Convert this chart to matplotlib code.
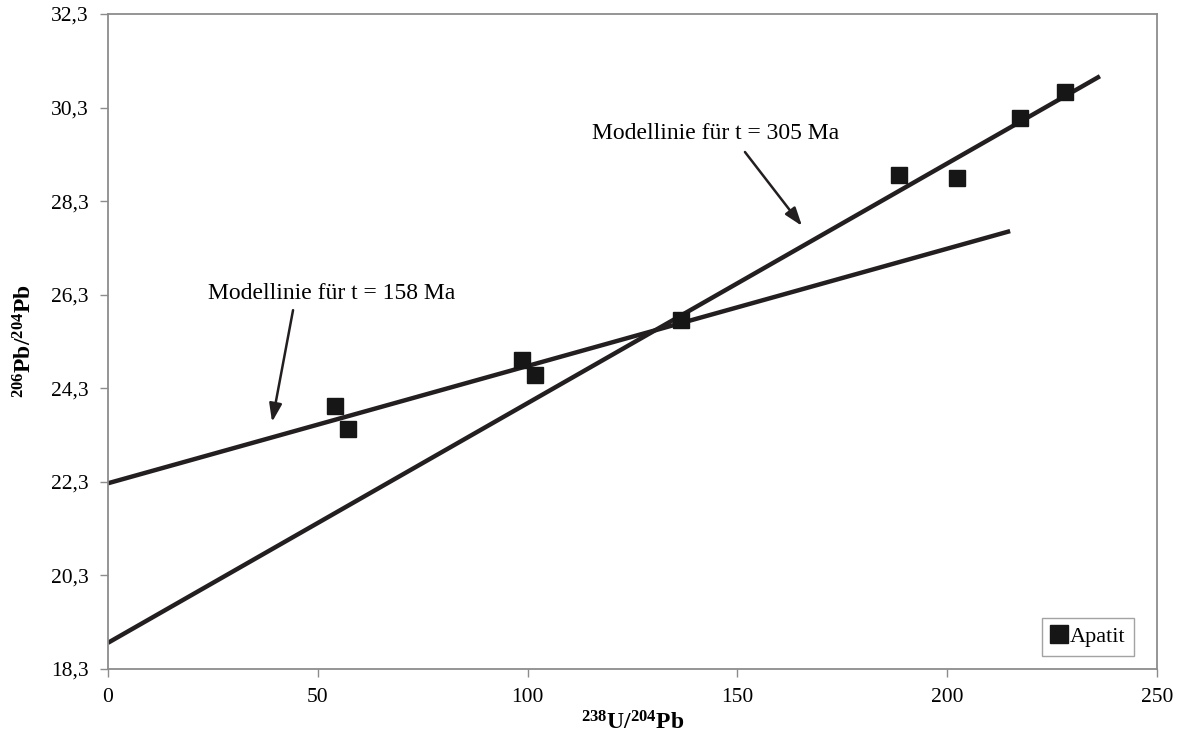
import matplotlib.pyplot as plt
import numpy as np

plt.rcParams["font.family"] = ["Liberation Serif", "DejaVu Serif"]
plt.rcParams["mathtext.fontset"] = "custom"
plt.rcParams["mathtext.rm"] = "Liberation Serif:bold"
plt.rcParams["mathtext.bf"] = "Liberation Serif:bold"

# Apatit measurements
u_pb = [54.1, 57.2, 98.7, 101.8, 136.6, 188.5, 202.3, 217.4, 228.1]
pb_pb = [23.92, 23.43, 24.90, 24.58, 25.76, 28.86, 28.79, 30.07, 30.63]

# model lines (start and end points)
line_158_x = [0, 215.0]
line_158_y = [22.27, 27.66]
line_305_x = [0, 236.4]
line_305_y = [18.86, 30.97]

y_ticks = [18.3, 20.3, 22.3, 24.3, 26.3, 28.3, 30.3, 32.3]
x_ticks = [0, 50, 100, 150, 200, 250]

GRAY = "#8c8c8c"
INK = "#231f20"

fig = plt.figure(figsize=(11.81, 7.37), dpi=100)
ax = fig.add_axes([108 / 1181, 1 - 669 / 737, (1157 - 108) / 1181, (669 - 14) / 737])

ax.plot(line_158_x, line_158_y, color=INK, lw=3.2, solid_capstyle="butt", zorder=2)
ax.plot(line_305_x, line_305_y, color=INK, lw=3.2, solid_capstyle="butt", zorder=2)
ax.plot(u_pb, pb_pb, ls="", marker="s", ms=11.5, color="#161616",
        label="Apatit", zorder=3)

arrow = dict(arrowstyle="-|>,head_length=1.1,head_width=0.38", color=INK, lw=1.8,
             shrinkA=0, shrinkB=0)
ax.text(53.4, 26.33, "Modellinie für t = 158 Ma", ha="center", va="center", fontsize=17)
ax.annotate("", xy=(39.1, 23.58), xytext=(44.1, 25.97), arrowprops=arrow)
ax.text(144.7, 29.75, "Modellinie für t = 305 Ma", ha="center", va="center", fontsize=17)
ax.annotate("", xy=(165.4, 27.77), xytext=(151.8, 29.35), arrowprops=arrow)

ax.set_xlim(0, 250)
ax.set_ylim(18.3, 32.3)
ax.set_xticks(x_ticks)
ax.set_xticklabels([str(v) for v in x_ticks])
ax.set_yticks(y_ticks)
ax.set_yticklabels([f"{v:.1f}".replace(".", ",") for v in y_ticks])
ax.tick_params(direction="out", length=6, width=1, color=GRAY,
               labelsize=15.5, pad=8)
for s in ax.spines.values():
    s.set_color(GRAY)
    s.set_linewidth(1.3)

ax.set_xlabel(r"$\mathbf{^{238}U/^{204}Pb}$", fontsize=17, labelpad=3)
ax.set_ylabel(r"$\mathbf{^{206}Pb/^{204}Pb}$", fontsize=17, labelpad=10)

leg = ax.legend(loc="lower right", bbox_to_anchor=(0.978, 0.02), fontsize=16,
                frameon=True, fancybox=False, handlelength=0.8, markerscale=1.15,
                handletextpad=0.05, borderpad=0.4, borderaxespad=0)
leg.get_frame().set_edgecolor(GRAY)
leg.get_frame().set_linewidth(1.0)

fig.savefig("out.png", dpi=100)
